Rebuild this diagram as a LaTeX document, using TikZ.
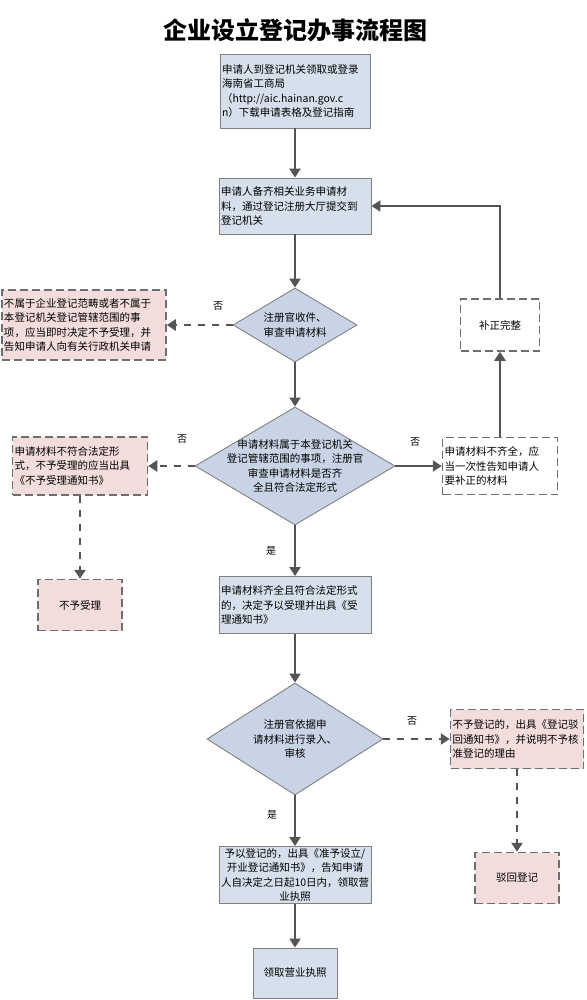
\documentclass[tikz,border=0pt]{standalone}
\usepackage{fontspec}
\setmainfont{Noto Sans CJK SC}
\usepackage{tikz}
\usetikzlibrary{arrows.meta}
\usetikzlibrary{shapes.geometric}
\definecolor{boxblue}{RGB}{214,224,237}
\definecolor{diamondblue}{RGB}{200,212,229}
\definecolor{rosepink}{RGB}{242,221,220}
\definecolor{linegray}{RGB}{84,84,84}
\definecolor{edgegray}{RGB}{128,128,128}

\begin{document}
\begin{tikzpicture}[x=1pt, y=-1pt,
	font=\fontsize{10.5}{14.5}\selectfont,
	bluebox/.style={draw=edgegray, line width=0.9pt, fill=boxblue, inner xsep=2pt, inner ysep=0pt},
	pinkbox/.style={draw=linegray!85, line width=1.5pt, dash pattern=on 8pt off 4pt, fill=rosepink, inner xsep=2pt, inner ysep=0pt},
	whitebox/.style={draw=linegray!85, line width=1.5pt, dash pattern=on 8pt off 4pt, fill=white, inner xsep=2pt, inner ysep=0pt},
	decision/.style={diamond, draw=edgegray, line width=0.9pt, fill=diamondblue, inner sep=0pt},
	flow/.style={draw=linegray, line width=2.6pt, -{Triangle[width=11pt,length=9pt]}},
	dflow/.style={draw=linegray, line width=2.6pt, dash pattern=on 7pt off 7pt, -{Triangle[width=11pt,length=9pt]}},
	answer/.style={font=\fontsize{10}{10}\selectfont, inner sep=0pt}]
	\def\boxw{152}

	\useasboundingbox (0,0) rectangle (586,1000);

	\node (title) at (295,30) {\fontsize{24}{24}\selectfont\bfseries 企业设立登记办事流程图};

	\node[bluebox, text width=146, minimum height=74, align=left] (guide) at (295,91)
		{申请人到登记机关领取或登录\\海南省工商局\\（http://aic.hainan.gov.c\\n）下载申请表格及登记指南};

	\node[bluebox, text width=\boxw-4, minimum height=56, align=left] (submit) at (295,206)
		{申请人备齐相关业务申请材\\料，通过登记注册大厅提交到\\登记机关};

	\node[decision, minimum width=124, minimum height=74] (check) at (295,325) {};
	\node[align=center, inner sep=0pt] (checktext) at (check) {注册官收件、\\审查申请材料};

	\node[pinkbox, text width=160, minimum height=70, align=left] (outscope) at (84,325)
		{不属于企业登记范畴或者不属于\\本登记机关登记管辖范围的事\\项，应当即时决定不予受理，并\\告知申请人向有关行政机关申请};

	\node[decision, minimum width=200, minimum height=118] (review) at (295,466) {};
	\node[align=center, inner sep=0pt] (reviewtext) at (review)
		{申请材料属于本登记机关\\登记管辖范围的事项，注册官\\审查申请材料是否齐\\全且符合法定形式};

	\node[pinkbox, text width=131, minimum height=58, align=left] (badform) at (80,466)
		{申请材料不符合法定形\\式，不予受理的应当出具\\《不予受理通知书》};

	\node[pinkbox, minimum width=84, minimum height=51] (refuse) at (80,605) {不予受理};

	\node[whitebox, text width=111, minimum height=57, align=left] (lack) at (500,466)
		{申请材料不齐全，应\\当一次性告知申请人\\要补正的材料};

	\node[whitebox, minimum width=79, minimum height=52] (amend) at (500,325) {补正完整};

	\node[bluebox, text width=\boxw-4, minimum height=57, align=left] (accept) at (295,605)
		{申请材料齐全且符合法定形式\\的，决定予以受理并出具《受\\理通知书》};

	\node[decision, minimum width=176, minimum height=112] (enter) at (295,739) {};
	\node[align=center, inner sep=0pt] (entertext) at (enter) {注册官依据申\\请材料进行录入、\\审核};

	\node[pinkbox, text width=129, minimum height=59, align=left] (deny) at (517,739)
		{不予登记的，出具《登记驳\\回通知书》，并说明不予核\\准登记的理由};

	\node[pinkbox, minimum width=84, minimum height=51] (reject) at (517,878) {驳回登记};

	\node[bluebox, text width=\boxw-4, minimum height=57, align=center] (grant) at (295,875)
		{予以登记的，出具《准予设立/\\开业登记通知书》，告知申请\\人自决定之日起10日内，领取营\\业执照};

	\node[bluebox, minimum width=84, minimum height=50] (licence) at (295,973) {领取营业执照};

	\draw[flow] (guide) -- (submit);
	\draw[flow] (submit) -- (check);
	\draw[dflow] (check) -- (outscope);
	\draw[flow] (check) -- (review);
	\draw[dflow] (review) -- (badform);
	\draw[dflow] (badform) -- (refuse);
	\draw[flow] (review) -- (lack);
	\draw[flow] (lack) -- (amend);
	\draw[flow] (amend.north) |- (submit.east);
	\draw[flow] (review) -- (accept);
	\draw[flow] (accept) -- (enter);
	\draw[dflow] (enter) -- (deny);
	\draw[dflow] (deny) -- (reject);
	\draw[flow] (enter) -- (grant);
	\draw[flow] (grant) -- (licence);

	\node[answer] (no1) at (218,306) {否};
	\node[answer] (no2) at (182,439) {否};
	\node[answer] (no3) at (415,442) {否};
	\node[answer] (yes1) at (271,551) {是};
	\node[answer] (no4) at (412,721) {否};
	\node[answer] (yes2) at (272,815) {是};
\end{tikzpicture}
\end{document}
